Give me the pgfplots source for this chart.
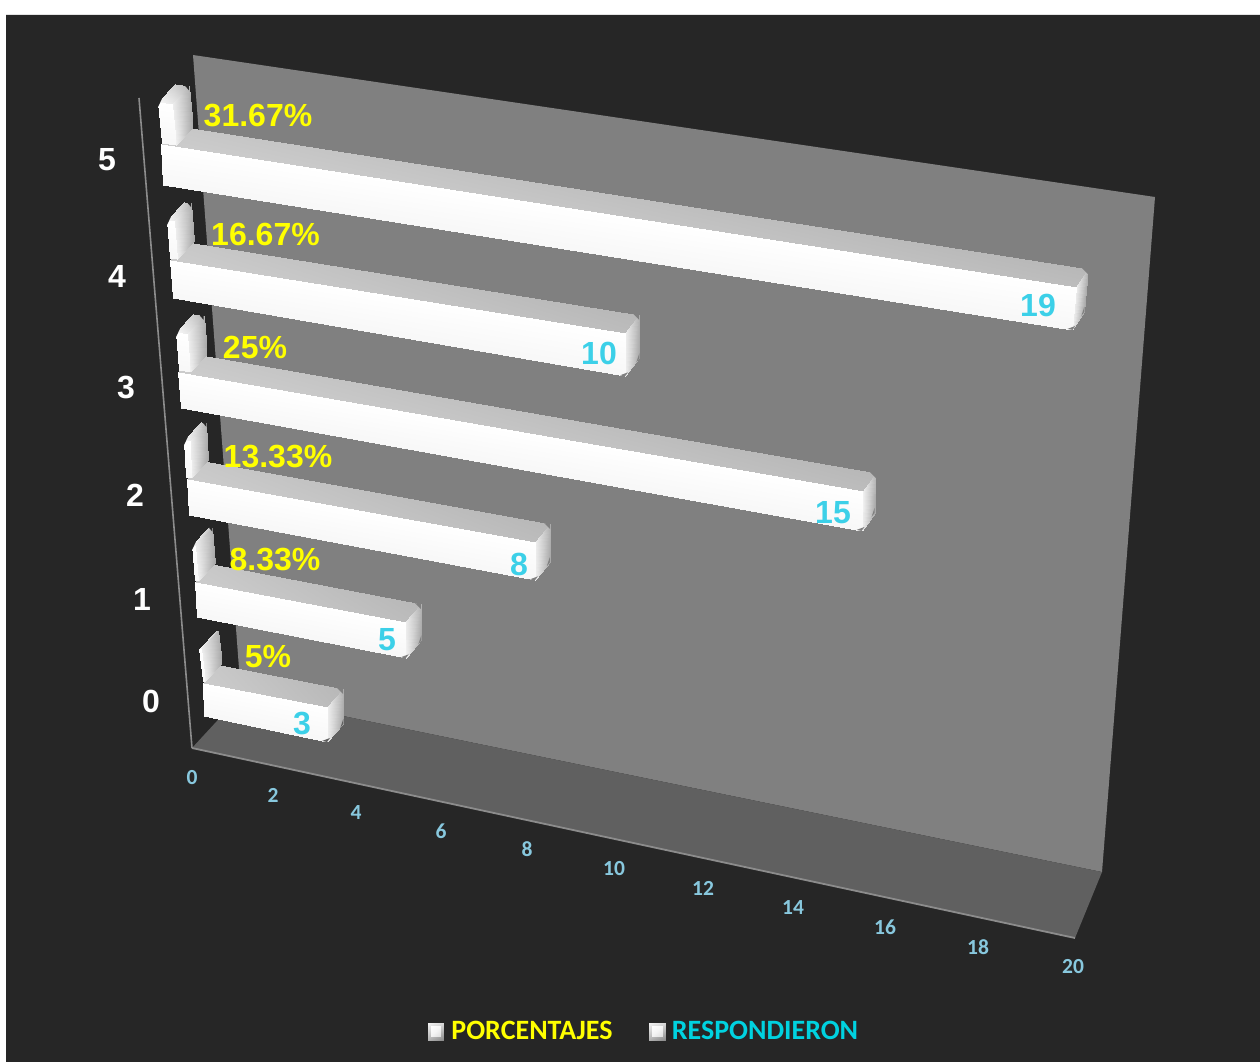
\documentclass[border=0pt]{standalone}
\usepackage{pgfplots}
\pgfplotsset{compat=1.18}
\usepackage{fontspec}
\setmainfont{Liberation Sans}
\newfontfamily\carl{Carlito}
\definecolor{bgd}{HTML}{262626}
\definecolor{wallc}{HTML}{808080}
\definecolor{floorc}{HTML}{606060}
\definecolor{axl}{HTML}{8C8C8C}
\definecolor{yel}{HTML}{FFFF00}
\definecolor{cy}{HTML}{3CD0E8}
\definecolor{tick}{HTML}{88C8DE}
\definecolor{legc}{HTML}{00D2E0}
% softened corner: #1 colour, #2,#3 corner, #4,#5 and #6,#7 offsets along the two edges
\newcommand{\Cut}[7]{%
  \pgfmathsetmacro\cutxa{#2+#4}\pgfmathsetmacro\cutya{#3+#5}%
  \pgfmathsetmacro\cutxb{#2+#6}\pgfmathsetmacro\cutyb{#3+#7}%
  \addplot[fill=#1,draw=none] coordinates {(\cutxa,\cutya)(#2,#3)(\cutxb,\cutyb)(\cutxa,\cutya)};%
}
% #1 value, #2,#3 top-left of front face, #4,#5 bottom-left, #6 length of scale 0..20 in px,
% #7 slope of top edge, #8 slope of bottom edge
\newcommand{\BarD}[8]{%
  \pgfmathsetmacro\s{#1/20}%
  \pgfmathsetmacro\t{\s/(\s+1.095*(1-\s))}%
  \pgfmathsetmacro\xc{#2+#6*\t}%
  \pgfmathsetmacro\yc{#3+#7*#6*\t}%
  \pgfmathsetmacro\xe{#4+(#6-6)*\t}%
  \pgfmathsetmacro\ye{#5+#8*(#6-6)*\t}%
  \pgfmathsetmacro\dxr{17-5.5*\t}%
  \pgfmathsetmacro\xtl{#2+17}\pgfmathsetmacro\ytl{#3-18}%
  \pgfmathsetmacro\xtr{\xc+\dxr}\pgfmathsetmacro\ytr{\yc-18}%
  \pgfmathsetmacro\xbr{\xe+\dxr}\pgfmathsetmacro\ybr{\ye-18}%
  \addplot[patch,patch type=rectangle,shader=interp,point meta=explicit] coordinates {
    (#2,#3) [\topa] (\xc,\yc) [\topb] (\xtr,\ytr) [\topc] (\xtl,\ytl) [\topd]};
  \addplot[patch,patch type=rectangle,shader=interp,point meta=explicit] coordinates {
    (\xc,\yc) [0.94] (\xe,\ye) [0.94] (\xbr,\ybr) [0.66] (\xtr,\ytr) [0.70]};
  \addplot[patch,patch type=rectangle,shader=interp,point meta=explicit] coordinates {
    (#2,#3) [1] (\xc,\yc) [1] (\xe,\ye) [0.97] (#4,#5) [0.97]};
}
\newcommand{\BigLev}{\def\topa{0.80}\def\topb{0.74}\def\topc{0.72}\def\topd{0.78}}
\newcommand{\SmallLev}{\def\topa{0.97}\def\topb{0.92}\def\topc{0.72}\def\topd{0.80}}
% corners of the bar just drawn
\newcommand{\BigCuts}[1]{%
  \Cut{wallc}{\xtr}{\ytr}{-6}{-1}{0}{5}%
  \Cut{#1}{\xbr}{\ybr}{0}{-5}{-3}{4}%
  \Cut{#1}{\xe}{\ye}{-5}{-1}{3}{-4}%
}
\newcommand{\SmallCuts}[2]{%
  \Cut{bgd}{\xtr}{\ytr}{-4}{-0.6}{0}{4}%
  \Cut{bgd}{#1}{#2}{0}{5}{4}{-3.5}%
}
\begin{document}
\begin{tikzpicture}
\begin{axis}[
  scale only axis,width=1260pt,height=1062pt,
  xmin=0,xmax=1260,ymin=0,ymax=1062,y dir=reverse,
  hide axis,clip=false,
  colormap={g}{gray(0cm)=(0); gray(1cm)=(1)},
  point meta min=0,point meta max=1,
]
\addplot[fill=white,draw=none] coordinates {(0,0)(1260,0)(1260,1062)(0,1062)(0,0)};
\addplot[fill=bgd,draw=none] coordinates {(6,15)(1260,15)(1260,1062)(6,1062)(6,15)};
\addplot[fill=wallc,draw=none] coordinates {(193,55)(1155,197)(1102,872)(241,695)(193,55)};
\addplot[fill=floorc,draw=none] coordinates {(192,748)(1075,938)(1102,872)(241,695)(192,748)};
\addplot[axl,line width=1.6pt] coordinates {(139,98)(192,748)};
\addplot[axl,line width=1.8pt] coordinates {(192,748)(1075,938)};
% RESPONDIERON then PORCENTAJES (as share, on the same scale), by category 5..0
\BigLev\BarD{19}{161}{144}{163}{185}{968}{0.1563}{0.1593}\BigCuts{wallc}
\SmallLev\BarD{0.3167}{158}{102}{162}{143}{968}{0.1563}{0.1563}\SmallCuts{158}{102}
\BigLev\BarD{10}{170}{260}{173}{298}{953}{0.1604}{0.1733}\BigCuts{wallc}
\SmallLev\BarD{0.1667}{167}{220}{170}{258}{953}{0.1604}{0.1604}\SmallCuts{167}{220}
\BigLev\BarD{15}{178}{372}{181}{408}{935}{0.1737}{0.1806}\BigCuts{wallc}
\SmallLev\BarD{0.25}{176}{332}{179}{370}{935}{0.1737}{0.1737}\SmallCuts{176}{332}
\BigLev\BarD{8}{187}{479}{189}{515}{920}{0.181}{0.189}\BigCuts{wallc}
\SmallLev\BarD{0.1333}{184}{440}{186}{477}{920}{0.181}{0.181}\SmallCuts{184}{440}
\BigLev\BarD{5}{195}{582}{197}{617}{900}{0.1905}{0.198}\BigCuts{wallc}
\SmallLev\BarD{0.0833}{192}{545}{195}{580}{900}{0.1905}{0.1905}\SmallCuts{192}{545}
\BigLev\BarD{3}{203}{683}{204}{716}{893}{0.1935}{0.211}\BigCuts{floorc}
\SmallLev\BarD{0.05}{199}{649}{203}{681}{893}{0.1935}{0.1935}
% category labels
\foreach \x/\y/\l in {107/160/5,117/276/4,126/388/3,135/495/2,142/599/1,151/701/0}{
  \edef\tmp{\noexpand\node[text=white,inner sep=0pt,font=\noexpand\fontsize{32}{32}\noexpand\selectfont\noexpand\bfseries] at (axis cs:\x,\y) {\l};}\tmp
}
% percentage labels
\foreach \x/\y/\l in {258/116/31.67,265.5/234/16.67,255/347/25,278/457/13.33,275/560/8.33,268/657/5}{
  \edef\tmp{\noexpand\node[text=yel,inner sep=0pt,font=\noexpand\fontsize{32}{32}\noexpand\selectfont\noexpand\bfseries] at (axis cs:\x,\y) {\l\noexpand\%};}\tmp
}
% value labels
\foreach \x/\y/\l in {1038/305/19,599/353/10,833/513/15,519/564/8,387/640/5,302/723/3}{
  \edef\tmp{\noexpand\node[text=cy,inner sep=0pt,font=\noexpand\fontsize{32}{32}\noexpand\selectfont\noexpand\bfseries] at (axis cs:\x,\y) {\l};}\tmp
}
% scale labels
\foreach \x/\y/\l in {192/778/0,273/795/2,356/813/4,441/831/6,527/849/8,614/869/10,703/888/12,793/908/14,885/927/16,978/947/18,1073/967/20}{
  \edef\tmp{\noexpand\node[text=tick,inner sep=0pt,font=\noexpand\carl\noexpand\fontsize{21.5}{21.5}\noexpand\selectfont\noexpand\bfseries] at (axis cs:\x,\y) {\l};}\tmp
}
% legend
\addplot[patch,patch type=rectangle,shader=interp,point meta=explicit] coordinates {(428,1023) [0.95] (443,1023) [0.85] (443,1040) [0.55] (428,1040) [0.7]};
\addplot[patch,patch type=rectangle,shader=interp,point meta=explicit] coordinates {(431,1026) [1] (440,1026) [0.97] (440,1036) [0.88] (431,1036) [0.95]};
\addplot[patch,patch type=rectangle,shader=interp,point meta=explicit] coordinates {(649,1023) [0.95] (665,1023) [0.85] (665,1040) [0.55] (649,1040) [0.7]};
\addplot[patch,patch type=rectangle,shader=interp,point meta=explicit] coordinates {(652,1026) [1] (662,1026) [0.97] (662,1036) [0.88] (652,1036) [0.95]};
\node[text=yel,inner sep=0pt,anchor=base,font=\carl\fontsize{28}{28}\selectfont\bfseries] at (axis cs:532,1039) {PORCENTAJES};
\node[text=legc,inner sep=0pt,anchor=base,font=\carl\fontsize{28}{28}\selectfont\bfseries] at (axis cs:765,1039) {RESPONDIERON};
\end{axis}
\end{tikzpicture}
\end{document}
